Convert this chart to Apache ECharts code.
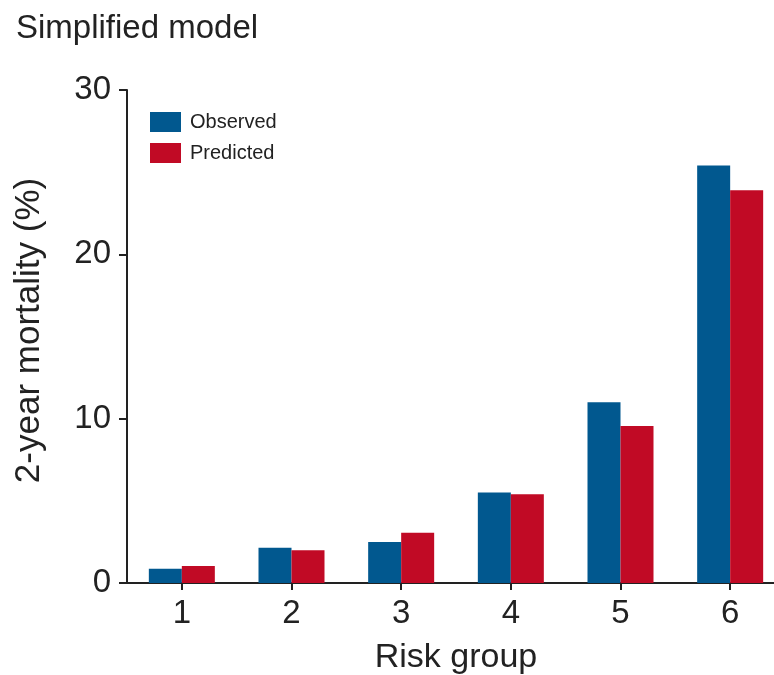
<!DOCTYPE html>
<html>
<head>
<meta charset="utf-8">
<script src="https://cdn.jsdelivr.net/npm/echarts@6/dist/echarts.min.js"></script>
<style>html,body{margin:0;padding:0;background:#fff}#c{width:774px;height:675px}</style>
</head>
<body>
<div id="c"></div>
<script>
const categories = ['1', '2', '3', '4', '5', '6'];
const observed = [0.87, 2.15, 2.5, 5.5, 11.0, 25.4];
const predicted = [1.03, 2.0, 3.06, 5.4, 9.55, 23.9];
const yTicks = [0, 10, 20, 30];

const chart = echarts.init(document.getElementById('c'), null, {renderer: 'canvas'});
const font = 'Arial, "Liberation Sans", sans-serif';
chart.setOption({
  animation: false,
  backgroundColor: '#fff',
  title: {
    text: 'Simplified model', left: 11, top: 7,
    textStyle: {fontFamily: font, fontSize: 33, fontWeight: 'normal', color: '#222'}
  },
  legend: {
    orient: 'vertical', left: 145, top: 107,
    itemWidth: 31, itemHeight: 20, itemGap: 11,
    icon: 'rect',
    textStyle: {fontFamily: font, fontSize: 20, color: '#222', padding: [0, 0, 0, 4]},
    data: ['Observed', 'Predicted']
  },
  grid: {left: 127, width: 658, top: 90, height: 493, containLabel: false, outerBoundsMode: 'none'},
  xAxis: {
    type: 'category', data: categories,
    name: 'Risk group', nameLocation: 'middle', nameGap: 58,
    nameTextStyle: {fontFamily: font, fontSize: 34, color: '#222'},
    axisLine: {lineStyle: {color: '#222', width: 2}},
    axisTick: {show: true, alignWithLabel: true, length: 7, lineStyle: {color: '#222', width: 2}},
    axisLabel: {fontFamily: font, fontSize: 33, color: '#222', margin: 14}
  },
  yAxis: {
    type: 'value', min: yTicks[0], max: yTicks[yTicks.length - 1], interval: 10,
    name: '2-year mortality (%)', nameLocation: 'middle', nameGap: 80,
    nameTextStyle: {fontFamily: font, fontSize: 35, color: '#222', padding: [0, 0, 0, 12]},
    axisLine: {show: true, lineStyle: {color: '#222', width: 2}},
    axisTick: {show: true, length: 8, lineStyle: {color: '#222', width: 2}},
    axisLabel: {fontFamily: font, fontSize: 33, color: '#222', margin: 16},
    splitLine: {show: false}
  },
  series: [
    {name: 'Observed', type: 'bar', data: observed, barWidth: 33, barGap: '0%',
     itemStyle: {color: '#01588F'}},
    {name: 'Predicted', type: 'bar', data: predicted, barWidth: 33, barGap: '0%',
     itemStyle: {color: '#C10A25'}}
  ]
});
</script>
</body>
</html>
